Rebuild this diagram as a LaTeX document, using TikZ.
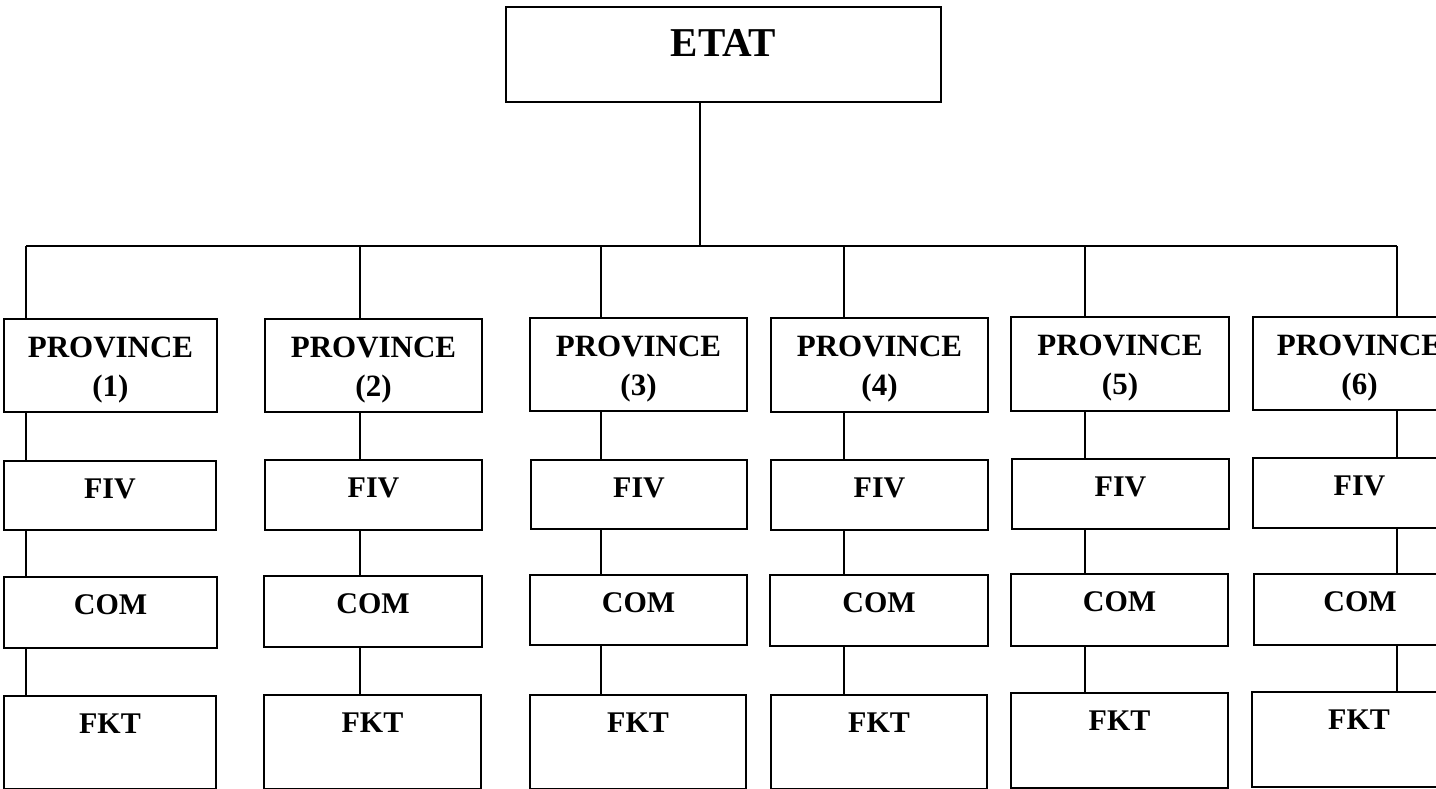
\documentclass[tikz,border=0pt]{standalone}
\usepackage{fontspec}
\setmainfont{Liberation Serif}
\begin{document}
\begin{tikzpicture}[x=1pt,y=-1pt,
  box/.style={draw, line width=1.6pt, rectangle, inner sep=0pt},
  conn/.style={line width=1.1pt},
  lbl/.style={inner sep=0pt, anchor=base, font=\bfseries\fontsize{30}{36}\selectfont},
  plbl/.style={inner sep=0pt, anchor=base, align=center, font=\bfseries\fontsize{31}{39}\selectfont},
  tlbl/.style={inner sep=0pt, anchor=base, font=\bfseries\fontsize{41}{48}\selectfont}]
\useasboundingbox (0,0) rectangle (1436,789);
\clip (0,0) rectangle (1436,789);
\newcommand\mybox[5]{\node[box, minimum width={#3-#2}, minimum height={#5-#4}] (#1) at ({(#2+#3)/2},{(#4+#5)/2}) {};}
% ETAT
\mybox{etat}{506}{941}{7}{102}
\node[tlbl] (etatt) at ([yshift=-50pt]etat.north) {ETAT};
% provinces
\mybox{p1}{4}{217}{319}{412}
\mybox{p2}{265}{482}{319}{412}
\mybox{p3}{530}{747}{318}{411}
\mybox{p4}{771}{988}{318}{412}
\mybox{p5}{1011}{1229}{317}{411}
\mybox{p6}{1253}{1466}{317}{410}
% FIV
\mybox{f1}{4}{216}{461}{530}
\mybox{f2}{265}{482}{460}{530}
\mybox{f3}{531}{747}{460}{529}
\mybox{f4}{771}{988}{460}{530}
\mybox{f5}{1012}{1229}{459}{529}
\mybox{f6}{1253}{1466}{458}{528}
% COM
\mybox{c1}{4}{217}{577}{648}
\mybox{c2}{264}{482}{576}{647}
\mybox{c3}{530}{747}{575}{645}
\mybox{c4}{770}{988}{575}{646}
\mybox{c5}{1011}{1228}{574}{646}
\mybox{c6}{1254}{1466}{574}{645}
% FKT
\mybox{k1}{4}{216}{696}{789}
\mybox{k2}{264}{481}{695}{789}
\mybox{k3}{530}{746}{695}{789}
\mybox{k4}{771}{987}{695}{789}
\mybox{k5}{1011}{1228}{693}{788}
\mybox{k6}{1252}{1466}{692}{787}
% labels
\foreach \i in {1,...,6}{
  \node[plbl] (pt\i) at ([yshift=-78pt]p\i.north) {PROVINCE\\(\i)};
  \node[lbl] (ft\i) at ([yshift=-38pt]f\i.north) {FIV};
  \node[lbl] (ct\i) at ([yshift=-38pt]c\i.north) {COM};
  \node[lbl] (kt\i) at ([yshift=-38pt]k\i.north) {FKT};
}
% connectors
\coordinate (t0) at (700,246);
\coordinate (b1) at (26,246);
\coordinate (b2) at (360,246);
\coordinate (b3) at (601,246);
\coordinate (b4) at (844,246);
\coordinate (b5) at (1085,246);
\coordinate (b6) at (1397,246);
\draw[conn] (etat.south -| t0) -- (t0);
\draw[conn] (b1) -- (b6);
\foreach \i in {1,...,6}{
  \draw[conn] (b\i) -- (b\i |- p\i.north);
  \draw[conn] (p\i.south -| b\i) -- (f\i.north -| b\i);
  \draw[conn] (f\i.south -| b\i) -- (c\i.north -| b\i);
  \draw[conn] (c\i.south -| b\i) -- (k\i.north -| b\i);
}
\end{tikzpicture}
\end{document}
